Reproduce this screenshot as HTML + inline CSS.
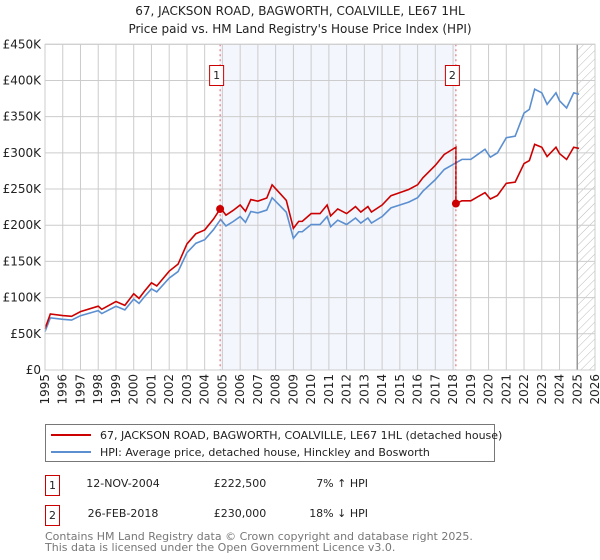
<!DOCTYPE html>
<html><head><meta charset="utf-8"><style>
body{margin:0;background:#fff;}
svg{display:block;font-family:"DejaVu Sans","Liberation Sans",sans-serif;}
</style></head><body>
<svg id="chart" width="600" height="560" viewBox="0 0 600 560">
<defs><pattern id="hatch" width="6" height="6" patternUnits="userSpaceOnUse" patternTransform="rotate(45)"><line x1="0" y1="0" x2="0" y2="6" stroke="#bbb" stroke-width="1"/></pattern></defs>
<text x="300" y="15" text-anchor="middle" font-size="12" fill="#222">67, JACKSON ROAD, BAGWORTH, COALVILLE, LE67 1HL</text>
<text x="300" y="33" text-anchor="middle" font-size="12" fill="#222">Price paid vs. HM Land Registry's House Price Index (HPI)</text>
<g id="plot"></g>
<g>
<rect x="45.5" y="424.5" width="449" height="37" fill="#fff" stroke="#777"/>
<line x1="51" y1="435" x2="91" y2="435" stroke="#cc0000" stroke-width="2"/>
<text x="100" y="439" font-size="11" fill="#222">67, JACKSON ROAD, BAGWORTH, COALVILLE, LE67 1HL (detached house)</text>
<line x1="51" y1="452" x2="91" y2="452" stroke="#5b8fd0" stroke-width="2"/>
<text x="100" y="456" font-size="11" fill="#222">HPI: Average price, detached house, Hinckley and Bosworth</text>
</g>
<g font-size="11" fill="#222">
<rect x="45.5" y="475.5" width="14" height="20" fill="#fff" stroke="#cc0000"/><text x="52.5" y="489" text-anchor="middle">1</text>
<text x="123" y="487" text-anchor="middle">12-NOV-2004</text><text x="240" y="487" text-anchor="middle">£222,500</text><text x="368" y="487" text-anchor="end">7% ↑ HPI</text>
<rect x="45.5" y="505.5" width="14" height="20" fill="#fff" stroke="#cc0000"/><text x="52.5" y="519" text-anchor="middle">2</text>
<text x="123" y="517" text-anchor="middle">26-FEB-2018</text><text x="240" y="517" text-anchor="middle">£230,000</text><text x="368" y="517" text-anchor="end">18% ↓ HPI</text>
</g>
<text x="45" y="540" font-size="11" fill="#777">Contains HM Land Registry data © Crown copyright and database right 2025.</text>
<text x="45" y="551" font-size="11" fill="#777">This data is licensed under the Open Government Licence v3.0.</text>
</svg>
<script>
const yTicks=[0,50,100,150,200,250,300,350,400,450];
const xYears=[1995,1996,1997,1998,1999,2000,2001,2002,2003,2004,2005,2006,2007,2008,2009,2010,2011,2012,2013,2014,2015,2016,2017,2018,2019,2020,2021,2022,2023,2024,2025,2026];
const hpiT=[1995.0,1995.3,1996,1996.5,1997,1998,1998.2,1999,1999.5,2000,2000.3,2000.6,2001,2001.3,2002,2002.5,2003,2003.5,2004,2004.5,2004.9,2005.2,2005.6,2006,2006.3,2006.6,2007,2007.5,2007.8,2008.2,2008.6,2009.0,2009.3,2009.5,2010,2010.5,2010.9,2011.1,2011.5,2012,2012.5,2012.8,2013.2,2013.4,2014,2014.5,2015,2015.5,2016,2016.3,2017,2017.5,2018,2018.5,2019,2019.4,2019.8,2020.1,2020.5,2021,2021.5,2022,2022.3,2022.6,2023,2023.3,2023.8,2024,2024.4,2024.8,2025.1];
const hpiV=[53,72,70,69,75,82,78,88,83,98,92,101,112,108,127,136,162,175,180,194,208,199,205,212,204,219,217,221,238,228,218,182,191,191,201,201,212,198,207,201,210,203,210,203,212,224,228,232,238,247,263,277,284,291,291,298,305,294,300,321,323,355,360,388,383,367,383,372,362,383,381];
const saleT=[2004.87,2018.16];
const saleV=[222.5,230];
const saleLabels=["1","2"];
const X0=45,X1=595,Y0=370,Y1=44.3;
const xs=t=>X0+(t-1995)/(2026-1995)*(X1-X0);
const ys=v=>Y0-v/450*(Y0-Y1);
const NS="http://www.w3.org/2000/svg";
const g=document.getElementById('plot');
function mk(tag,attrs,parent){const e=document.createElementNS(NS,tag);for(const k in attrs)e.setAttribute(k,attrs[k]);(parent||g).appendChild(e);return e;}
function hpiAt(t){for(let i=0;i<hpiT.length-1;i++){if(t>=hpiT[i]&&t<=hpiT[i+1]){const f=(t-hpiT[i])/(hpiT[i+1]-hpiT[i]);return hpiV[i]+f*(hpiV[i+1]-hpiV[i]);}}return hpiV[hpiV.length-1];}
// shaded region
let sh=mk('rect',{x:xs(saleT[0]),y:Y1,width:xs(saleT[1])-xs(saleT[0]),height:Y0-Y1,fill:'#f3f6fd'});


let ht=mk('rect',{x:xs(2025.0),y:Y1,width:X1-xs(2025.0),height:Y0-Y1,fill:'url(#hatch)'});


yTicks.forEach(v=>{
 let l=mk('line',{x1:X0,x2:X1,y1:ys(v),y2:ys(v),stroke:'#ccc','stroke-width':1});
 
 
 let t=mk('text',{x:X0-4,y:ys(v)+4,'text-anchor':'end','font-size':12,fill:'#222'});
 t.textContent=v===0?'£0':'£'+v+'K';
 
 
});
xYears.forEach(yr=>{
 let l=mk('line',{x1:xs(yr),x2:xs(yr),y1:Y1,y2:Y0,stroke:'#ccc','stroke-width':1});
 
 
 let t=mk('text',{x:0,y:0,'text-anchor':'end','font-size':12,fill:'#222',transform:`translate(${xs(yr)+4},374) rotate(-90)`});
 t.textContent=yr;
 
 
});
let bd=mk('line',{x1:xs(2025.0),x2:xs(2025.0),y1:Y1,y2:Y0,stroke:'#999','stroke-width':1.5});


// HPI line
let hp=mk('polyline',{points:hpiT.map((t,i)=>xs(t)+','+ys(hpiV[i])).join(' '),fill:'none',stroke:'#5b8fd0','stroke-width':1.6});


// property line: HPI indexed from each sale
const r1=saleV[0]/hpiAt(saleT[0]),r2=saleV[1]/hpiAt(saleT[1]);
let pts=[];
hpiT.forEach((t,i)=>{if(t<saleT[1])pts.push([t,hpiV[i]*r1]);});
pts.push([saleT[1],hpiAt(saleT[1])*r1]);
pts.push([saleT[1],saleV[1]]);
hpiT.forEach((t,i)=>{if(t>saleT[1])pts.push([t,hpiV[i]*r2]);});
let pl=mk('polyline',{points:pts.map(p=>xs(p[0])+','+ys(p[1])).join(' '),fill:'none',stroke:'#cc0000','stroke-width':1.6});


saleT.forEach((t,i)=>{
 let v=mk('line',{x1:xs(t),x2:xs(t),y1:Y1,y2:Y0,stroke:'#e06060','stroke-width':1,'stroke-dasharray':'2,3'});
 
 
 let c=mk('circle',{cx:xs(t),cy:ys(saleV[i]),r:4,fill:'#cc0000'});
 
 
 let b=mk('rect',{x:xs(t)-10.5,y:65.5,width:14,height:20,fill:'#fff',stroke:'#cc0000'});
 
 
 let tx=mk('text',{x:xs(t)-3.5,y:79,'text-anchor':'middle','font-size':11,fill:'#222'});
 tx.textContent=saleLabels[i];
 
 
});
let ax=mk('rect',{x:X0,y:Y1,width:X1-X0,height:Y0-Y1,fill:'none',stroke:'#ccc'});


</script>
</body></html>
